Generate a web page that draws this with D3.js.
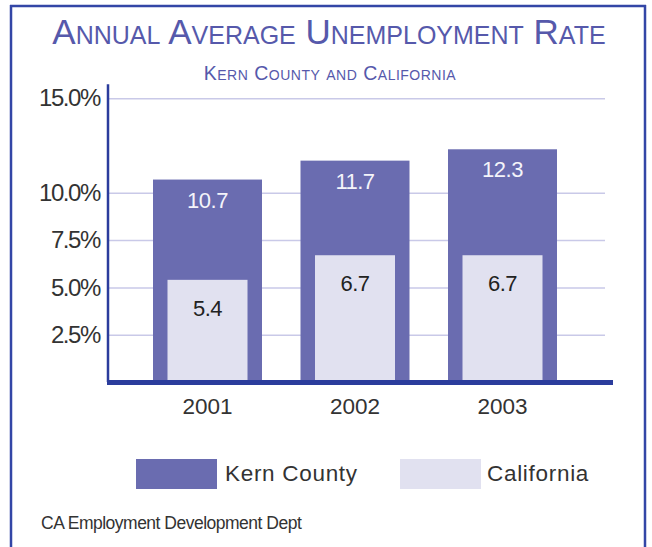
<!DOCTYPE html>
<html>
<head>
<meta charset="utf-8">
<script src="https://cdn.jsdelivr.net/npm/d3@7"></script>
<style>
  html, body { margin: 0; padding: 0; background: #ffffff; }
  svg { display: block; overflow: visible; }
  svg text { font-family: "Liberation Sans", Arial, sans-serif; }
</style>
</head>
<body>
<div id="chart"></div>
<script>
// Annual average unemployment rate, Kern County vs. California
const years = ["2001", "2002", "2003"];
const kernRates = [10.7, 11.7, 12.3];
const californiaRates = [5.4, 6.7, 6.7];
const yTicks = [2.5, 5.0, 7.5, 10.0, 15.0];
const seriesNames = ["Kern County", "California"];

const colors = {
  frame: "#3346a6",
  axis: "#2b3c9c",
  grid: "#c9c9e8",
  kern: "#6a6cb0",
  california: "#e1e1f0",
  title: "#5659ab",
  text: "#333333"
};

const W = 652, H = 547;
const svg = d3.select("#chart").append("svg")
  .attr("width", W)
  .attr("height", H);

// Outer frame (top, left, right edges; open at the bottom)
const frame = svg.append("g")
  .attr("stroke", colors.frame)
  .attr("stroke-width", 2.5);
frame.append("line").attr("x1", 11).attr("x2", 11).attr("y1", 5).attr("y2", H);
frame.append("line").attr("x1", 645).attr("x2", 645).attr("y1", 5).attr("y2", H);
frame.append("line").attr("x1", 10).attr("x2", 646).attr("y1", 6).attr("y2", 6);

// Title and subtitle in small caps
svg.append("text")
  .attr("x", 329).attr("y", 44)
  .attr("text-anchor", "middle")
  .attr("fill", colors.title)
  .style("font-size", "35px")
  .style("font-variant", "small-caps")
  .text("Annual Average Unemployment Rate");

svg.append("text")
  .attr("x", 330).attr("y", 80)
  .attr("text-anchor", "middle")
  .attr("fill", colors.title)
  .style("font-size", "19.5px")
  .style("letter-spacing", "0.5px")
  .style("font-variant", "small-caps")
  .text("Kern County and California");

// Scales
const plotLeft = 108, plotRight = 605, baseY = 382;
const y = d3.scaleLinear()
  .domain([0, 15])
  .range([baseY, baseY - 15 * 18.92]);

const x = d3.scaleBand()
  .domain(years)
  .range([133.75, 576.25])
  .paddingInner(0.261)
  .paddingOuter(0.1305);

const innerWidth = 80;

// Gridlines and y tick labels
const yAxis = d3.axisLeft(y)
  .tickValues(yTicks)
  .tickSize(-(plotRight - plotLeft))
  .tickPadding(8)
  .tickFormat(d => d3.format(".1f")(d) + "%");

const yAxisG = svg.append("g")
  .attr("transform", `translate(${plotLeft},0)`)
  .call(yAxis);
yAxisG.select(".domain").remove();
yAxisG.selectAll(".tick line")
  .attr("stroke", colors.grid)
  .attr("stroke-width", 1.5);
yAxisG.selectAll(".tick text")
  .attr("x", -8)
  .attr("fill", colors.text)
  .style("font-size", "24px")
  .style("letter-spacing", "-1.4px");

// Bar data
const kernData = years.map((yr, i) => ({ year: yr, value: kernRates[i] }));
const caData = years.map((yr, i) => ({ year: yr, value: californiaRates[i] }));

// Kern County bars
svg.append("g").selectAll("rect")
  .data(kernData)
  .join("rect")
  .attr("x", d => x(d.year))
  .attr("y", d => y(d.value))
  .attr("width", x.bandwidth())
  .attr("height", d => y(0) - y(d.value))
  .attr("fill", colors.kern);

// California bars, nested inside
svg.append("g").selectAll("rect")
  .data(caData)
  .join("rect")
  .attr("x", d => x(d.year) + (x.bandwidth() - innerWidth) / 2)
  .attr("y", d => y(d.value))
  .attr("width", innerWidth)
  .attr("height", d => y(0) - y(d.value))
  .attr("fill", colors.california);

// Value labels
svg.append("g").selectAll("text")
  .data(kernData)
  .join("text")
  .attr("x", d => x(d.year) + x.bandwidth() / 2)
  .attr("y", d => y(d.value) + 28)
  .attr("text-anchor", "middle")
  .attr("fill", "#f4f4fa")
  .style("font-size", "22px")
  .style("letter-spacing", "-0.5px")
  .text(d => d3.format(".1f")(d.value));

svg.append("g").selectAll("text")
  .data(caData)
  .join("text")
  .attr("x", d => x(d.year) + x.bandwidth() / 2)
  .attr("y", d => y(d.value) + 36)
  .attr("text-anchor", "middle")
  .attr("fill", "#222222")
  .style("font-size", "22px")
  .style("letter-spacing", "-0.5px")
  .text(d => d3.format(".1f")(d.value));

// Axis lines
svg.append("line")
  .attr("x1", plotLeft).attr("x2", plotLeft)
  .attr("y1", y(15) - 14).attr("y2", baseY)
  .attr("stroke", colors.axis)
  .attr("stroke-width", 2.5);

svg.append("rect")
  .attr("x", plotLeft - 1)
  .attr("y", baseY - 2)
  .attr("width", 613 - plotLeft + 1)
  .attr("height", 5)
  .attr("fill", colors.axis);

// Year labels
svg.append("g").selectAll("text")
  .data(years)
  .join("text")
  .attr("x", d => x(d) + x.bandwidth() / 2)
  .attr("y", 414)
  .attr("text-anchor", "middle")
  .attr("fill", colors.text)
  .style("font-size", "22.5px")
  .text(d => d);

// Legend
const legendX = [136, 400];
const legendColors = [colors.kern, colors.california];
const legend = svg.append("g").selectAll("g")
  .data(seriesNames)
  .join("g")
  .attr("transform", (d, i) => `translate(${legendX[i]},459)`);
legend.append("rect")
  .attr("width", 81)
  .attr("height", 30)
  .attr("fill", (d, i) => legendColors[i]);
legend.append("text")
  .attr("x", (d, i) => i === 0 ? 89 : 87)
  .attr("y", 22)
  .attr("fill", colors.text)
  .style("font-size", "22.5px")
  .style("letter-spacing", "0.7px")
  .text(d => d);

// Source note
svg.append("text")
  .attr("x", 41)
  .attr("y", 529)
  .attr("fill", colors.text)
  .style("font-size", "17.5px")
  .style("letter-spacing", "-0.5px")
  .text("CA Employment Development Dept");
</script>
</body>
</html>
